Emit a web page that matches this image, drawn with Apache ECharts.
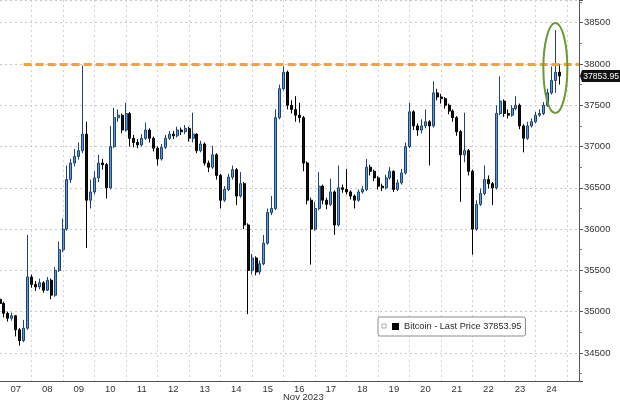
<!DOCTYPE html>
<html><head><meta charset="utf-8">
<script src="https://cdn.jsdelivr.net/npm/echarts@6/dist/echarts.min.js"></script>
<style>html,body{margin:0;padding:0;background:#fff}#c{width:620px;height:403px}</style>
</head><body><div id="c"></div>
<script>
// ---- data ----
const days = ['07','08','09','10','11','12','13','14','15','16','17','18','19','20','21','22','23','24'];
const monthLabel = 'Nov 2023';
const seriesName = 'Bitcoin';
const firstOpen = 35150;
const resistance = 38000;
const lastPrice = 37853.95;
// 3-hour bars starting Nov 7 00:00
const closes = [
 35100,34980,34920,34950,34780,34650,34800,35420,35330,35300,
 35350,35260,35380,35200,35500,35750,36000,36600,36800,36880,
 36950,37150,36350,36450,36620,36800,36780,36500,37000,37350,
 37380,37200,37400,37100,37050,37020,37100,37200,37100,36980,
 36850,36990,37100,37150,37130,37200,37180,37220,37100,37150,
 36950,37030,36800,36750,36900,36650,36350,36480,36630,36720,
 36400,36550,36050,35500,35650,35480,35580,35830,36200,36250,
 37350,37700,37900,37500,37450,37380,37350,36800,36350,36000,
 36250,36520,36350,36300,36450,36050,36500,36480,36450,36400,
 36350,36450,36480,36750,36700,36620,36520,36500,36620,36700,
 36480,36560,36680,37000,37420,37250,37200,37250,37300,37250,
 37650,37600,37580,37500,37430,37350,37180,36900,36950,36700,
 36000,36300,36430,36600,36550,36500,37400,37550,37400,37380,
 37460,37500,37250,37100,37250,37300,37380,37400,37500,37650,
 37800,37900,37853.95];
const highs = [
 35200,35120,35000,34990,34960,34800,34900,35930,35450,35370,
 35400,35370,35420,35400,35540,35850,36130,36770,36850,36970,
 37050,37980,37300,36600,36700,36900,36850,36800,37250,37470,
 37450,37400,37530,37420,37140,37090,37150,37290,37220,37120,
 37000,37030,37140,37190,37190,37240,37230,37260,37240,37410,
 37160,37070,37050,36830,37010,36920,36670,36520,36670,36770,
 36740,36690,36570,36070,35700,35670,35620,35930,36250,36400,
 37450,37750,37970,37920,37560,37610,37530,37370,36820,36380,
 36330,36690,36540,36380,36610,36470,36770,36540,36730,36470,
 36420,36480,36520,36850,36780,36720,36640,36550,36660,36750,
 36710,36600,36730,37050,37530,37440,37280,37330,37450,37320,
 37790,37700,37640,37600,37520,37450,37370,37200,37410,36970,
 36720,36350,36490,36770,36650,36570,37500,37850,37570,37450,
 37500,37610,37520,37270,37300,37340,37420,37450,37540,37700,
 37970,38410,38000];
const lows = [
 35050,34930,34880,34890,34700,34590,34630,34780,35290,35250,
 35270,35230,35250,35150,35180,35480,35720,35980,36560,36760,
 36840,36920,35770,36250,36420,36570,36720,36370,36480,36980,
 37300,37160,37180,37000,36990,36980,37000,37080,37050,36940,
 36770,36830,36970,37080,37090,37110,37140,37150,37060,37050,
 36920,36930,36770,36690,36730,36600,36250,36330,36460,36600,
 36290,36380,36000,34970,35450,35440,35450,35560,35810,36170,
 36230,37330,37680,37450,37400,37300,37290,36700,36300,35570,
 35980,36230,36300,36240,36280,35930,36030,36440,36420,36360,
 36250,36330,36430,36460,36650,36580,36480,36460,36480,36600,
 36450,36460,36540,36660,36980,37200,37130,37160,37220,36770,
 37230,37560,37520,37460,37390,37300,37130,36330,36810,36650,
 35690,35980,36280,36410,36490,36290,36480,37380,37360,37340,
 37360,37440,37210,36930,37080,37230,37280,37360,37380,37480,
 37630,37650,37750];

// ---- build ----
const SLOTS_PER_DAY = 8;
const slotCount = 148;
const slots = [];
for (let i = 0; i < slotCount; i++) {
  const d = new Date(2023, 10, 7, i * 3);
  slots.push((d.getMonth()+1) + '/' + d.getDate() + ' ' + String(d.getHours()).padStart(2,'0') + ':00');
}
const candles = closes.map((c, i) => [i === 0 ? firstOpen : closes[i-1], c, lows[i], highs[i]]);

const FONT = "'Liberation Sans','Arial',sans-serif";
const chart = echarts.init(document.getElementById('c'), null, {renderer: 'canvas'});
const option = {
  animation: false,
  grid: {left: 0, right: 41, top: 0, bottom: 22, containLabel: false},
  legend: {
    left: 378, top: 317,
    data: [{name: seriesName, icon: 'rect', itemStyle: {color: '#000', borderWidth: 0}}],
    formatter: n => n + ' - Last Price ' + lastPrice.toFixed(2),
    itemWidth: 7, itemHeight: 7, itemGap: 4,
    padding: [5, 4, 5, 14],
    borderColor: '#8c8c8c', borderWidth: 1, borderRadius: 2,
    backgroundColor: '#fff',
    textStyle: {fontFamily: FONT, fontSize: 9.2, color: '#2a2a2a'},
    selectedMode: false, z: 5
  },
  xAxis: {
    type: 'category', data: slots, boundaryGap: false,
    axisLine: {show: true, lineStyle: {color: '#555', width: 1}},
    axisTick: {show: false},
    axisLabel: {
      interval: (i) => i % SLOTS_PER_DAY === 4,
      formatter: (v, i) => days[(i - 4) / SLOTS_PER_DAY] || '',
      fontFamily: FONT, fontSize: 9.5, color: '#333', margin: 3
    },
    splitLine: {show: true, interval: (i) => i % SLOTS_PER_DAY === 0 && i > 0,
      lineStyle: {color: '#d2d2d2', type: [2, 3], width: 1}}
  },
  yAxis: {
    type: 'value', position: 'right', min: 34160, max: 38775, splitNumber: 9, scale: true,
    axisLine: {show: true, lineStyle: {color: '#555', width: 1}},
    axisTick: {show: true, length: 4, lineStyle: {color: '#555'}},
    minorTick: {show: true, splitNumber: 2, length: 3, lineStyle: {color: '#777'}},
    axisLabel: {showMinLabel: false, showMaxLabel: false, fontFamily: FONT, fontSize: 9.5, color: '#333', margin: 5,
      formatter: v => String(v)},
    splitLine: {show: true, lineStyle: {color: '#c8c8c8', type: [2, 3], width: 1}}
  },
  series: [{
    name: seriesName, type: 'candlestick', data: candles, barWidth: 2.5,
    itemStyle: {color: '#5a9be0', color0: '#111', borderColor: '#1f4274', borderColor0: '#000', borderWidth: 1},
    markLine: {
      silent: true, symbol: ['none', 'none'], animation: false,
      data: [
        [{coord: [6, resistance], lineStyle: {color: '#f4a236', width: 3, type: [8, 4]}, label: {show: false}},
         {coord: [slotCount - 1, resistance]}]
      ]
    }
  }]
};
chart.setOption(option);
// annotation ellipse around the latest bars + last-price tag on the axis
const ctr = chart.convertToPixel({xAxisIndex: 0, yAxisIndex: 0}, [141, 37950]);
const tagY = chart.convertToPixel({yAxisIndex: 0}, lastPrice);
const axisX = chart.convertToPixel({xAxisIndex: 0}, slotCount - 1);
chart.setOption({graphic: [
  {type: 'text', left: 283, top: 392, style: {text: monthLabel, font: '9.5px ' + FONT, fill: '#333'}},
  {type: 'rect', shape: {x: 382, y: 324, width: 4, height: 4}, style: {fill: '#fff', stroke: '#aaa', lineWidth: 1}, z: 200},
  {type: 'ellipse', shape: {cx: ctr[0], cy: ctr[1], rx: 12, ry: 45}, style: {fill: 'none', stroke: '#6a9a34', lineWidth: 2}, z: 100},
  {type: 'polygon', shape: {points: [[axisX + 1, tagY], [axisX + 3, tagY - 6], [620, tagY - 6], [620, tagY + 6], [axisX + 3, tagY + 6]]},
   style: {fill: '#111'}, z: 150},
  {type: 'text', x: 619, y: tagY + 0.5, style: {text: lastPrice.toFixed(2), font: '8.6px ' + FONT, fill: '#fff', verticalAlign: 'middle', align: 'right'}, z: 160}
]});
</script></body></html>
